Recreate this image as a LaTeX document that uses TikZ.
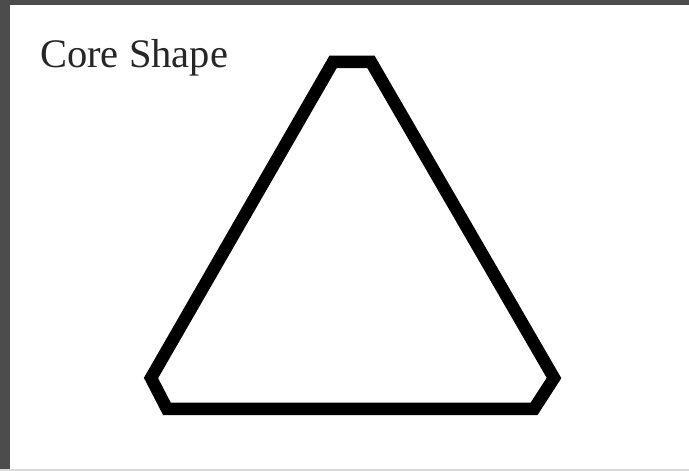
\documentclass[tikz,border=0pt]{standalone}
\usepackage{fontspec}
\setmainfont{Liberation Serif}
\begin{document}
\begin{tikzpicture}[x=1pt,y=1pt,
  shapeline/.style={line width=12.5pt,line join=miter,black},
  label/.style={anchor=base west,inner sep=0pt,font=\fontsize{40.5}{46}\selectfont,text=black!85}]
\useasboundingbox (0,0) rectangle (689,471);
\fill[white] (0,0) rectangle (689,471);
\fill[black!70] (0,0) rectangle (10,471);
\fill[black!70] (0,466) rectangle (689,471);
\fill[black!15] (0,0) rectangle (689,2);
\node[label] (title) at (40,403) {Core Shape};
\coordinate (tl) at (333,409);
\coordinate (tr) at (371,409);
\coordinate (r) at (554,93);
\coordinate (br) at (534,62);
\coordinate (bl) at (167,62);
\coordinate (l) at (151,93);
\draw[shapeline] (tl) -- (tr) -- (r) -- (br) -- (bl) -- (l) -- cycle;
\end{tikzpicture}
\end{document}
